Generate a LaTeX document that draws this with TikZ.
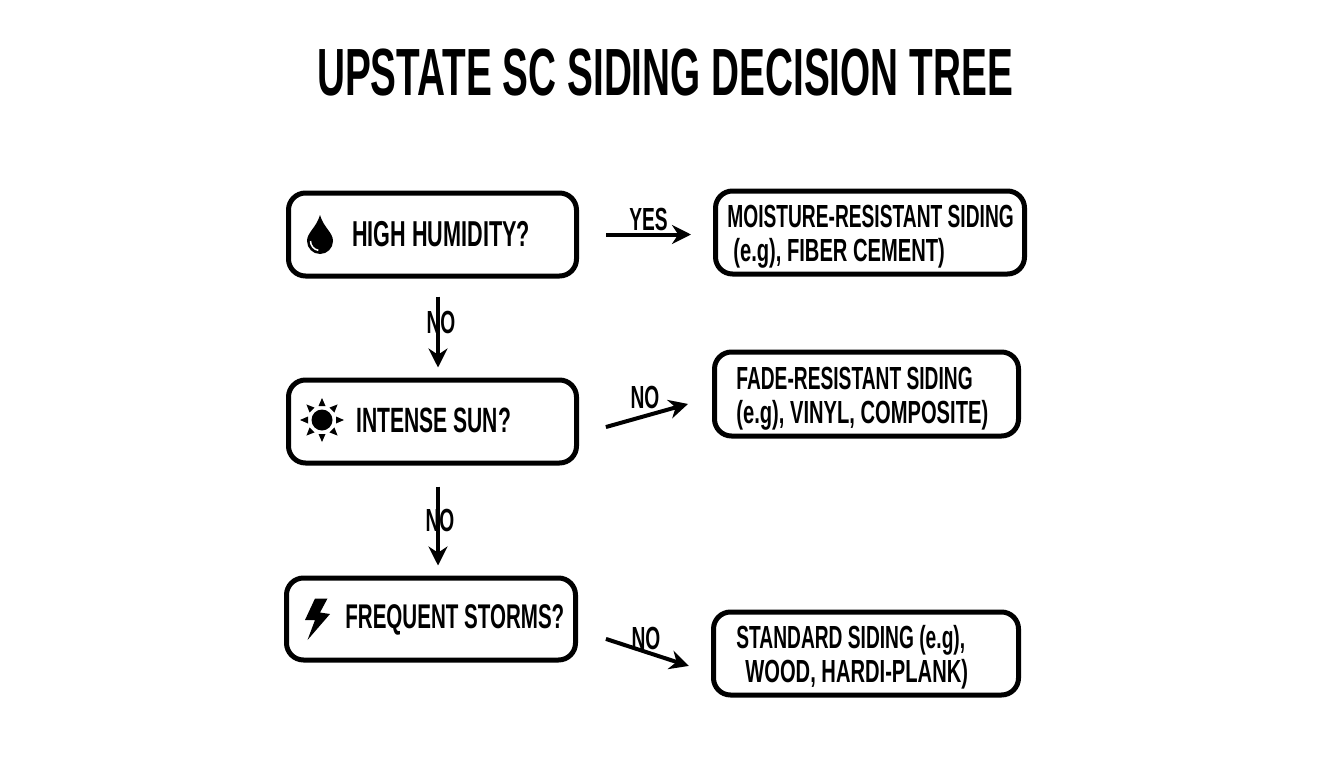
\documentclass[tikz,border=0pt]{standalone}
\usepackage{fontspec}
\setmainfont[FakeStretch=0.6]{Liberation Sans}
\newfontfamily\titlefont[FakeStretch=0.58]{Liberation Sans}
\newfontfamily\linefont[FakeStretch=0.63]{Liberation Sans}
\usetikzlibrary{arrows.meta}
\tikzset{
    choicebox/.style={draw=black, line width=0.1cm, rounded corners=0.34cm, fill=white, anchor=north west, outer sep=0pt, inner sep=0pt},
    boxlabel/.style={font=\fontsize{20.5}{23}\selectfont\bfseries, text=black, inner sep=0pt, anchor=west, align=left},
    answerlabel/.style={font=\fontsize{18.2}{19.5}\selectfont\bfseries, text=black, inner sep=0pt, anchor=west, align=left},
    edgelabel/.style={font=\fontsize{18.2}{20}\selectfont\bfseries, text=black, inner sep=0pt},
    flowarrow/.style={line width=0.08cm, draw=black, -{Stealth[length=0.38cm,width=0.38cm]}},
    icon/.style={fill=black, draw=none}
}
\begin{document}
\begin{tikzpicture}
    \useasboundingbox (0,0) rectangle (26.88,-15.36);
    \node[font=\fontsize{38}{40}\selectfont\bfseries\titlefont, text=black, inner sep=0pt] (title) at (13.3,-1.45) {UPSTATE SC SIDING DECISION TREE};

    % questions
    \node[choicebox, minimum width=5.76cm, minimum height=1.66cm] (humidity) at (5.77,-3.86) {};
    \node[choicebox, minimum width=5.76cm, minimum height=1.66cm] (sun) at (5.77,-7.6) {};
    \node[choicebox, minimum width=5.78cm, minimum height=1.64cm] (storms) at (5.73,-11.56) {};
    % answers
    \node[choicebox, minimum width=6.18cm, minimum height=1.66cm] (moisture) at (14.31,-3.82) {};
    \node[choicebox, minimum width=6.08cm, minimum height=1.68cm] (fade) at (14.29,-7.04) {};
    \node[choicebox, minimum width=6.1cm, minimum height=1.66cm] (standard) at (14.27,-12.24) {};

    \node[boxlabel] (humiditytext) at (7.04,-4.69) {HIGH HUMIDITY?};
    \node[boxlabel, font=\fontsize{20}{23}\selectfont\bfseries] (suntext) at (7.12,-8.41) {INTENSE SUN?};
    \node[boxlabel, font=\fontsize{19.5}{23}\selectfont\bfseries] (stormstext) at (6.9,-12.4) {FREQUENT STORMS?};
    \node[answerlabel] (moisturetext) at (14.54,-4.74) {MOISTURE-RESISTANT SIDING\\\hspace{0.12cm}\linefont(e.g), FIBER CEMENT)};
    \node[answerlabel] (fadetext) at (14.72,-7.98) {FADE-RESISTANT SIDING\\\linefont(e.g), VINYL, COMPOSITE)};
    \node[answerlabel] (standardtext) at (14.72,-13.15) {STANDARD SIDING (e.g),\\\hspace{0.18cm}\linefont WOOD, HARDI-PLANK)};

    % connectors
    \draw[flowarrow, shorten <=0.59cm, shorten >=0.49cm] (humidity.east) -- (moisture.west |- humidity.east);
    \draw[flowarrow, shorten <=0.41cm, shorten >=0.25cm] ([xshift=0.11cm]humidity.south) -- ([xshift=0.11cm]sun.north);
    \draw[flowarrow, shorten <=0.61cm, shorten >=0.55cm] ([yshift=-0.276cm]sun.east) -- ([yshift=-0.05cm]fade.west);
    \draw[flowarrow, shorten <=0.47cm, shorten >=0.25cm] ([xshift=0.11cm]sun.south) -- ([xshift=0.11cm]sun.south |- storms.north);
    \draw[flowarrow, shorten <=0.64cm, shorten >=0.52cm] ([yshift=-0.2cm]storms.east) -- ([yshift=-0.41cm]standard.west);

    \node[edgelabel] (yeslabel) at (12.97,-4.38) {YES};
    \node[edgelabel] (nolabela) at (8.82,-6.45) {NO};
    \node[edgelabel] (nolabelb) at (12.9,-7.95) {NO};
    \node[edgelabel] (nolabelc) at (8.8,-10.4) {NO};
    \node[edgelabel] (nolabeld) at (12.92,-12.76) {NO};

    % icons
    \fill[icon] (6.4,-4.3) .. controls (6.47,-4.55) and (6.66,-4.65) .. (6.66,-4.82) arc (0:-180:0.26) .. controls (6.14,-4.65) and (6.33,-4.55) .. (6.4,-4.3) -- cycle;
    \draw[white, line width=0.03cm] (6.21,-4.82) arc (180:260:0.19);
    \fill[icon] (6.44,-8.4) circle (0.21);
    \foreach \a in {0,45,...,315} {
        \fill[icon, rotate around={\a:(6.44,-8.4)}] (6.72,-8.47) -- (6.72,-8.33) -- (6.88,-8.4) -- cycle;
    }
    \fill[icon] (6.3,-11.97) -- (6.55,-11.97) -- (6.4,-12.25) -- (6.6,-12.28) -- (6.15,-12.8) -- (6.3,-12.4) -- (6.1,-12.4) -- cycle;
\end{tikzpicture}
\end{document}
